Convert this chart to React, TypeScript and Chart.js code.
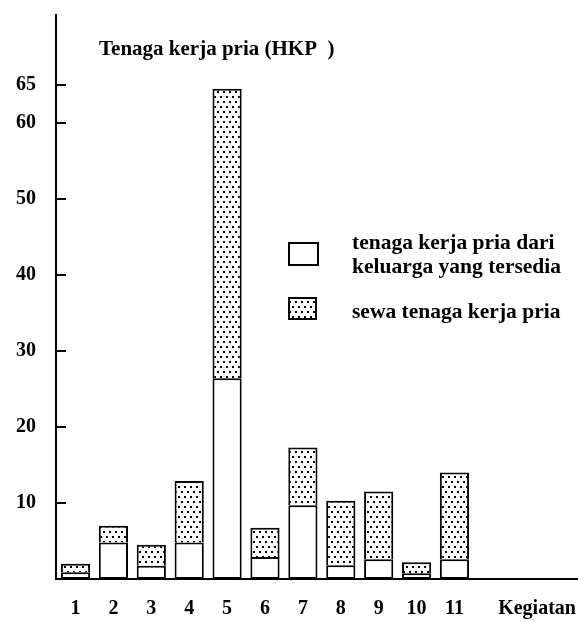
import React, { useEffect, useRef } from 'react';
import { Chart, registerables } from 'chart.js';

Chart.register(...registerables);

// ---- data ----
const categories = [1, 2, 3, 4, 5, 6, 7, 8, 9, 10, 11];
const familyLabour = [0.9, 4.8, 1.75, 4.8, 26.4, 2.9, 9.7, 1.8, 2.6, 0.75, 2.6];
const hiredLabour = [1.1, 2.2, 2.75, 8.1, 38.1, 3.85, 7.6, 8.5, 8.9, 1.45, 11.4];
const yTickValues = [10, 20, 30, 40, 50, 60, 65];
const xTickLabels = ['1', '2', '3', '4', '5', '6', '7', '8', '9', '10', '11'];
const xAxisName = 'Kegiatan';
const yAxisTitle = 'Tenaga kerja pria (HKP  )';
const legendFamily = ['tenaga kerja pria dari', 'keluarga yang tersedia'];
const legendHired = ['sewa tenaga kerja pria'];

// ---- layout / style ----
const W = 578;
const H = 622;
const X_MIN = 0.485;
const X_MAX = 14.26;
const X_NAME_POS = 13.18;
const Y_MAX = 74.2;
const FONT_FAMILY = '"Liberation Serif", "DejaVu Serif", serif';

function makeDots(): CanvasPattern | string {
  const c = document.createElement('canvas');
  c.width = 6;
  c.height = 10;
  const g = c.getContext('2d');
  if (!g) return '#ccc';
  g.fillStyle = '#fff';
  g.fillRect(0, 0, 6, 10);
  g.fillStyle = '#000';
  g.fillRect(1, 1, 2, 2);
  g.fillRect(4, 6, 2, 2);
  const p = g.createPattern(c, 'repeat');
  return p || '#ccc';
}

const overlayPlugin = {
  id: 'overlay',
  afterDraw(chart: any) {
    const ctx = chart.ctx as CanvasRenderingContext2D;
    const ds = chart.data.datasets;
    ctx.save();
    ctx.fillStyle = '#000';
    ctx.textBaseline = 'alphabetic';
    ctx.textAlign = 'left';
    ctx.font = `bold 21px ${FONT_FAMILY}`;
    ctx.fillText(yAxisTitle, 99, 55);

    const items = [
      { box: [289, 243, 29, 22], lines: ds[0].label as any, baselines: [249, 273], fill: ds[0].backgroundColor },
      { box: [289, 298, 27, 21], lines: ds[1].label as any, baselines: [318], fill: ds[1].backgroundColor },
    ];
    ctx.font = `bold 21.5px ${FONT_FAMILY}`;
    items.forEach((it) => {
      const [bx, by, bw, bh] = it.box;
      ctx.fillStyle = it.fill;
      ctx.fillRect(bx, by, bw, bh);
      ctx.strokeStyle = '#000';
      ctx.lineWidth = 2;
      ctx.strokeRect(bx, by, bw, bh);
      ctx.fillStyle = '#000';
      const lines: string[] = Array.isArray(it.lines) ? it.lines : [it.lines];
      lines.forEach((t, i) => ctx.fillText(t, 352, it.baselines[i]));
    });
    ctx.restore();
  },
};

export default function App() {
  const ref = useRef<HTMLCanvasElement | null>(null);

  useEffect(() => {
    if (!ref.current) return;
    const dots = makeDots();
    const chart = new Chart(ref.current, {
      type: 'bar',
      data: {
        datasets: [
          {
            label: legendFamily as any,
            data: categories.map((c, i) => ({ x: c, y: familyLabour[i] })),
            backgroundColor: '#ffffff',
            borderColor: '#000000',
            borderWidth: 2,
            borderSkipped: false,
            stack: 's',
            barPercentage: 0.77,
            categoryPercentage: 1,
          },
          {
            label: legendHired as any,
            data: categories.map((c, i) => ({ x: c, y: hiredLabour[i] })),
            backgroundColor: dots as any,
            borderColor: '#000000',
            borderWidth: 2,
            borderSkipped: 'bottom',
            stack: 's',
            barPercentage: 0.77,
            categoryPercentage: 1,
          },
        ],
      },
      options: {
        animation: false,
        responsive: false,
        maintainAspectRatio: false,
        layout: { padding: { top: 15, right: 0, left: 16, bottom: 0 } },
        plugins: {
          legend: { display: false },
          tooltip: { enabled: false },
          title: { display: false },
        },
        scales: {
          x: {
            type: 'linear',
            stacked: true,
            offset: false,
            min: X_MIN,
            max: X_MAX,
            afterFit: (s: any) => {
              s.height = 43;
            },
            afterBuildTicks: (s: any) => {
              s.ticks = [...categories.map((v) => ({ value: v })), { value: X_NAME_POS }];
            },
            grid: {
              display: true,
              drawOnChartArea: false,
              drawTicks: true,
              offset: false,
              tickLength: 18,
              tickColor: 'rgba(0,0,0,0)',
            },
            border: { display: true, color: '#000', width: 2 },
            ticks: {
              color: '#000',
              padding: 0,
              autoSkip: false,
              maxRotation: 0,
              font: { family: FONT_FAMILY, size: 20, weight: 'bold' },
              callback: (v: any) => {
                const idx = categories.indexOf(v as number);
                if (idx >= 0) return xTickLabels[idx];
                if (Math.abs((v as number) - X_NAME_POS) < 1e-6) return xAxisName;
                return '';
              },
            },
          },
          y: {
            type: 'linear',
            stacked: true,
            min: 0,
            max: Y_MAX,
            afterFit: (s: any) => {
              s.width = 40;
            },
            afterBuildTicks: (s: any) => {
              s.ticks = yTickValues.map((v) => ({ value: v }));
            },
            grid: {
              display: true,
              drawOnChartArea: false,
              drawTicks: true,
              tickLength: -10,
              color: '#000',
              lineWidth: 2,
            },
            border: { display: true, color: '#000', width: 2 },
            ticks: {
              color: '#000',
              padding: 0,
              crossAlign: 'far',
              font: { family: FONT_FAMILY, size: 20, weight: 'bold' },
              callback: (v: any) => String(v),
            },
          },
        },
      },
      plugins: [overlayPlugin],
    });
    return () => chart.destroy();
  }, []);

  return (
    <div style={{ position: 'fixed', left: 0, top: 0, width: W, height: H, background: '#fff' }}>
      <canvas ref={ref} width={W} height={H} style={{ width: W, height: H, display: 'block' }} />
    </div>
  );
}
